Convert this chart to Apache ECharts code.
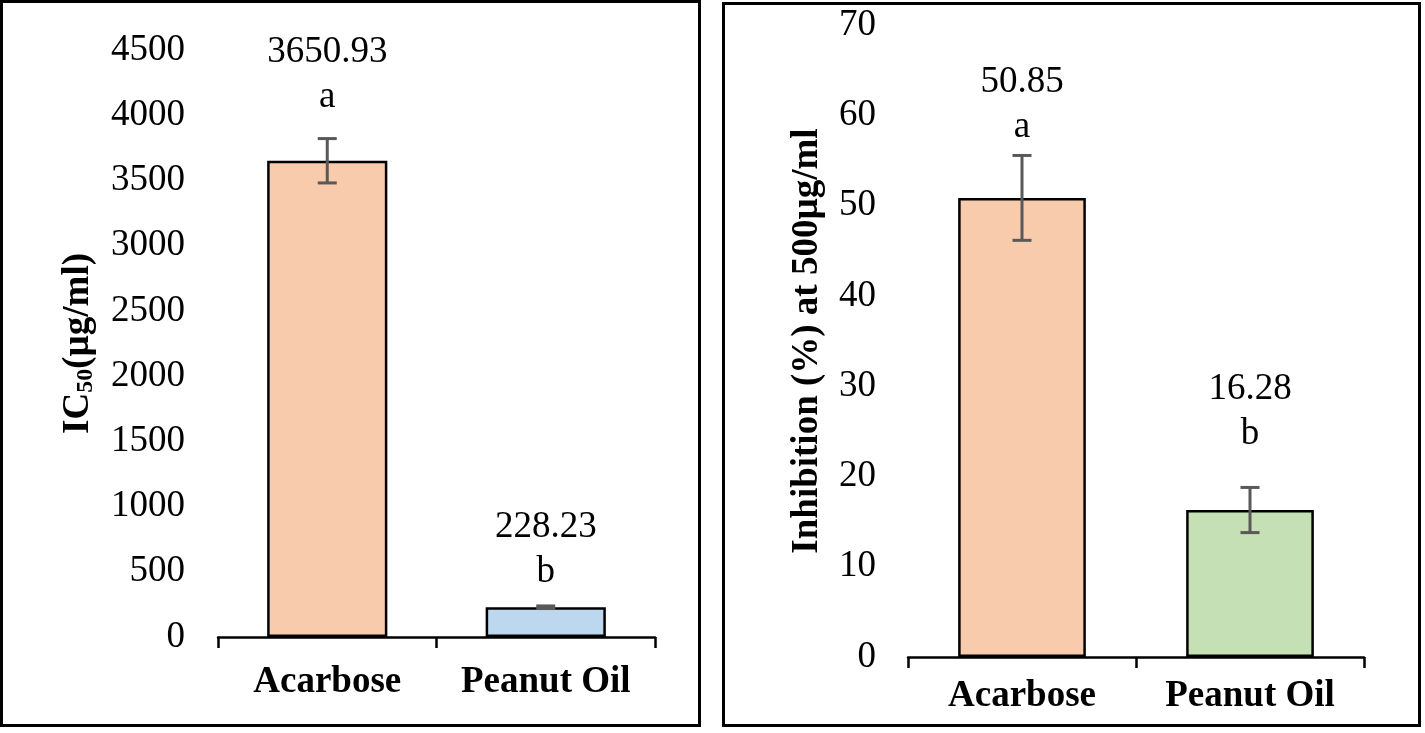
<!DOCTYPE html>
<html>
<head>
<meta charset="utf-8">
<script src="https://cdn.jsdelivr.net/npm/echarts@6/dist/echarts.min.js"></script>
<style>html,body{margin:0;padding:0;background:#fff}#c{width:1425px;height:733px}</style>
</head>
<body>
<div id="c"></div>
<script>
// ---- data ----
const categories = ['Acarbose', 'Peanut Oil'];
const ic50Values = [3650.93, 228.23];
const ic50Errors = [170, 10];
const ic50Letters = ['a', 'b'];
const inhibitionValues = [50.85, 16.28];
const inhibitionErrors = [4.7, 2.5];
const inhibitionLetters = ['a', 'b'];
const ic50Ticks = { min: 0, max: 4500, interval: 500 };
const inhibitionTicks = { min: 0, max: 70, interval: 10 };

// ---- style ----
const FONT = '"Liberation Serif", "Times New Roman", serif';
const FS = 37;
const colorsLeft = ['#F8CBAD', '#BDD7EE'];
const colorsRight = ['#F8CBAD', '#C5E0B4'];
const gapsLeft = [41, 12];
const gapsRight = [48, 53];

const chart = echarts.init(document.getElementById('c'), null, { renderer: 'canvas' });

function barData(values, colors, letters, gaps) {
  return values.map((v, i) => ({
    value: v,
    itemStyle: { color: colors[i] },
    label: {
      distance: gaps[i],
      formatter: v.toFixed(2) + '\n' + letters[i]
    }
  }));
}

function errSeries(xi, yi, values, errors) {
  return {
    type: 'custom',
    xAxisIndex: xi, yAxisIndex: yi,
    z: 5,
    data: values.map((v, i) => [i, v - errors[i], v + errors[i]]),
    renderItem: function (params, api) {
      const lo = api.coord([api.value(0), api.value(1)]);
      const hi = api.coord([api.value(0), api.value(2)]);
      const hw = 9.5;
      const st = { stroke: '#595959', lineWidth: 3 };
      return {
        type: 'group',
        children: [
          { type: 'line', shape: { x1: lo[0], y1: lo[1], x2: hi[0], y2: hi[1] }, style: st },
          { type: 'line', shape: { x1: lo[0] - hw, y1: lo[1], x2: lo[0] + hw, y2: lo[1] }, style: st },
          { type: 'line', shape: { x1: hi[0] - hw, y1: hi[1], x2: hi[0] + hw, y2: hi[1] }, style: st }
        ]
      };
    }
  };
}

const xAxisCommon = {
  type: 'category',
  data: categories,
  axisLine: { lineStyle: { color: '#000', width: 2.5 } },
  axisTick: { show: true, length: 11, lineStyle: { color: '#000', width: 2.5 } },
  axisLabel: { color: '#000', fontFamily: FONT, fontSize: FS, fontWeight: 'bold', interval: 0, hideOverlap: false }
};
const yAxisCommon = {
  type: 'value',
  axisLine: { show: false },
  axisTick: { show: false },
  splitLine: { show: false },
  axisLabel: { color: '#000', fontFamily: FONT, fontSize: FS, margin: 33, formatter: v => String(v) },
  nameLocation: 'middle',
  nameRotate: 90,
  nameTextStyle: { color: '#000', fontFamily: FONT, fontSize: FS, fontWeight: 'bold' }
};

const labelStyle = {
  show: true, position: 'top', color: '#000',
  fontFamily: FONT, fontSize: FS, lineHeight: 45
};

chart.setOption({
  animation: false,
  backgroundColor: '#fff',
  graphic: [
    { type: 'rect', shape: { x: 1.5, y: 1.5, width: 698, height: 724 }, style: { fill: 'none', stroke: '#000', lineWidth: 3 } },
    { type: 'rect', shape: { x: 723.5, y: 3.5, width: 696, height: 722 }, style: { fill: 'none', stroke: '#000', lineWidth: 3 } }
  ],
  grid: [
    { left: 218, right: 770, top: 50, bottom: 96 },
    { left: 908, right: 61, top: 25, bottom: 76 }
  ],
  xAxis: [
    Object.assign({}, xAxisCommon, { gridIndex: 0, axisLabel: Object.assign({}, xAxisCommon.axisLabel, { margin: 27 }) }),
    Object.assign({}, xAxisCommon, { gridIndex: 1, axisLabel: Object.assign({}, xAxisCommon.axisLabel, { margin: 21 }) })
  ],
  yAxis: [
    Object.assign({}, yAxisCommon, {
      gridIndex: 0, min: ic50Ticks.min, max: ic50Ticks.max, interval: ic50Ticks.interval,
      name: 'IC{sub|50}(µg/ml)', nameGap: 120,
      nameTextStyle: Object.assign({}, yAxisCommon.nameTextStyle, {
        rich: { sub: { fontFamily: FONT, fontSize: 24, fontWeight: 'bold', verticalAlign: 'bottom', padding: [15, 0, 0, 0] } }
      })
    }),
    Object.assign({}, yAxisCommon, {
      gridIndex: 1, min: inhibitionTicks.min, max: inhibitionTicks.max, interval: inhibitionTicks.interval,
      name: 'Inhibition (%) at 500µg/ml', nameGap: 82,
      axisLabel: Object.assign({}, yAxisCommon.axisLabel, { margin: 32 })
    })
  ],
  series: [
    {
      type: 'bar', xAxisIndex: 0, yAxisIndex: 0, barWidth: '55%',
      itemStyle: { borderColor: '#000', borderWidth: 2.5 },
      label: labelStyle,
      data: barData(ic50Values, colorsLeft, ic50Letters, gapsLeft)
    },
    errSeries(0, 0, ic50Values, ic50Errors),
    {
      type: 'bar', xAxisIndex: 1, yAxisIndex: 1, barWidth: '56%',
      itemStyle: { borderColor: '#000', borderWidth: 2.5 },
      label: labelStyle,
      data: barData(inhibitionValues, colorsRight, inhibitionLetters, gapsRight)
    },
    errSeries(1, 1, inhibitionValues, inhibitionErrors)
  ]
});
</script>
</body>
</html>
